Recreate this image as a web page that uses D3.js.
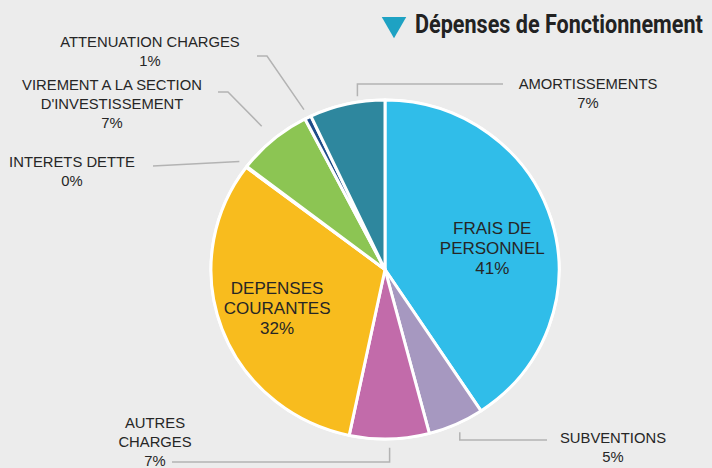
<!DOCTYPE html>
<html>
<head>
<meta charset="utf-8">
<script src="https://cdn.jsdelivr.net/npm/d3@7"></script>
<style>
  html, body { margin: 0; padding: 0; background: #ececec; }
  svg { display: block; }
  .lbl { font-family: "Liberation Sans", Arial, sans-serif; fill: #262626; }
</style>
</head>
<body>
<div class="chart"></div>
<script>
(function(){

//data
var categories = ["FRAIS DE PERSONNEL", "SUBVENTIONS", "AUTRES CHARGES", "DEPENSES COURANTES",
                  "INTERETS DETTE", "VIREMENT A LA SECTION D'INVESTISSEMENT", "ATTENUATION CHARGES", "AMORTISSEMENTS"];
var values = [40.7, 5.2, 7.4, 32.0, 0.1, 7.0, 0.6, 7.0];
var labelLines = [["FRAIS DE", "PERSONNEL"],
                  ["SUBVENTIONS"],
                  ["AUTRES", "CHARGES"],
                  ["DEPENSES", "COURANTES"],
                  ["INTERETS DETTE"],
                  ["VIREMENT A LA SECTION", "D'INVESTISSEMENT"],
                  ["ATTENUATION CHARGES"],
                  ["AMORTISSEMENTS"]];
var colors = ["#30bde9",   //frais de personnel
              "#a698c0",   //subventions
              "#c26baa",   //autres charges
              "#f8bc1e",   //depenses courantes
              "#f0f0f0",   //interets dette
              "#8cc553",   //virement
              "#1f4c88",   //attenuation
              "#2e879e"];  //amortissements
var title = "Dépenses de Fonctionnement";

//layout of labels (text centre x, first baseline y, leader end, leader shape)
var insideLayout = {
    "FRAIS DE PERSONNEL": {dx: 0, dy: 10},
    "DEPENSES COURANTES": {dx: -3, dy: 0}
};
var outerLayout = {
    "SUBVENTIONS":       {x: 613, y: 443, end: [547, 440], shape: "vh"},
    "AUTRES CHARGES":    {x: 155, y: 428, end: [172, 462], shape: "vh"},
    "INTERETS DETTE":    {x: 72,  y: 167, end: [153, 166], shape: "straight"},
    "VIREMENT A LA SECTION D'INVESTISSEMENT": {x: 112, y: 90, end: [218, 92], shape: "elbow", off: 18},
    "ATTENUATION CHARGES": {x: 150, y: 47, end: [257, 56], shape: "elbow"},
    "AMORTISSEMENTS":    {x: 588, y: 89, end: [503, 84], shape: "vh", at: 0.65, off: 6}
};

var width = 712, height = 468;
var cx = 385, cy = 269.5, radius = 174, squash = 0.974;

var svg = d3.select(".chart")
    .append("svg")
    .attr("width", width)
    .attr("height", height);

svg.append("rect")
    .attr("width", width)
    .attr("height", height)
    .attr("fill", "#ececec");

var total = d3.sum(values);
var data = categories.map(function(c, i){
    return {name: c, value: values[i], lines: labelLines[i], color: colors[i]};
});

var pie = d3.pie()
    .sort(null)
    .value(function(d){ return d.value; });

var arcs = pie(data);

var arc = d3.arc()
    .innerRadius(0)
    .outerRadius(radius);

var labelArc = d3.arc()
    .innerRadius(112)
    .outerRadius(112);

var g = svg.append("g")
    .attr("transform", "translate(" + cx + "," + cy + ") scale(1," + squash + ")");

//white outer ring
g.append("circle")
    .attr("r", radius + 1.5)
    .attr("fill", "#fff");

g.selectAll(".slice")
    .data(arcs)
    .enter()
    .append("path")
    .attr("class", "slice")
    .attr("d", arc)
    .attr("fill", function(d){ return d.data.color; })
    .attr("stroke", "#fff")
    .attr("stroke-width", 3)
    .attr("stroke-linejoin", "round");

function pct(d){
    return Math.round(d.data.value / total * 100) + "%";
}

//inside labels for the big slices
var inside = arcs.filter(function(d){ return d.data.value / total > 0.2; });
inside.forEach(function(d){
    var c = labelArc.centroid(d);
    var lay = insideLayout[d.data.name] || {dx: 0, dy: 0};
    var x = cx + c[0] + lay.dx, y = cy + c[1] * squash + lay.dy;
    var lines = d.data.lines.concat([pct(d)]);
    var t = svg.append("text")
        .attr("class", "lbl")
        .attr("text-anchor", "middle")
        .style("font-size", "17px");
    lines.forEach(function(l, i){
        t.append("tspan")
            .attr("x", x)
            .attr("y", y + 6 - 20 + i * 20)
            .text(l);
    });
});

//outer labels with leader lines
var outside = arcs.filter(function(d){ return d.data.value / total <= 0.2; });
outside.forEach(function(d){
    var lay = outerLayout[d.data.name];
    var f = lay.at === undefined ? 0.5 : lay.at;
    var mid = d.startAngle + (d.endAngle - d.startAngle) * f;
    var r = radius + (lay.off || 9);
    var sx = cx + Math.sin(mid) * r,
        sy = cy - Math.cos(mid) * r * squash;
    var pts;
    if (lay.shape === "vh") {
        pts = [[sx, sy], [sx, lay.end[1]], lay.end];
    } else if (lay.shape === "elbow") {
        pts = [[sx, sy], [lay.end[0] + 10, lay.end[1]], lay.end];
    } else {
        pts = [[sx, sy], lay.end];
    }
    svg.append("path")
        .attr("d", d3.line()(pts))
        .attr("fill", "none")
        .attr("stroke", "#b3b3b3")
        .attr("stroke-width", 1.5);

    var lines = d.data.lines.concat([pct(d)]);
    var t = svg.append("text")
        .attr("class", "lbl")
        .attr("text-anchor", "middle")
        .style("font-size", "14.8px");
    lines.forEach(function(l, i){
        t.append("tspan")
            .attr("x", lay.x)
            .attr("y", Math.min(lay.y + i * 19, 466))
            .text(l);
    });
});

//title
var tri = d3.symbol().type(d3.symbolTriangle).size(260);
svg.append("path")
    .attr("d", tri)
    .attr("transform", "translate(394,24) rotate(180)")
    .attr("fill", "#1ea2c3");

var titleText = svg.append("text")
    .attr("x", 0)
    .attr("y", 0)
    .style("font-family", "Roboto, sans-serif")
    .style("font-weight", "700")
    .style("font-size", "25px")
    .style("fill", "#222")
    .text(title);
var tw = titleText.node().getComputedTextLength();
titleText.attr("transform", "translate(415,33) scale(" + (288 / tw) + ",1)");

})();
</script>
</body>
</html>
